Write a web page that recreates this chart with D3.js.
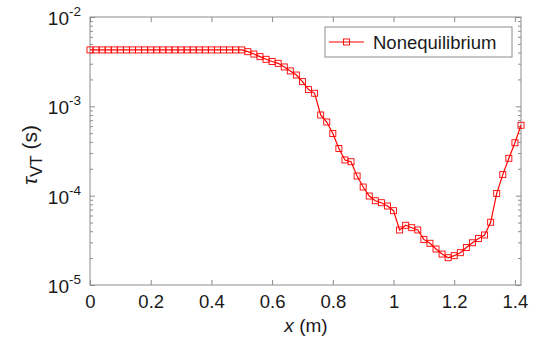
<!DOCTYPE html>
<html><head><meta charset="utf-8">
<script src="https://cdn.jsdelivr.net/npm/d3@7"></script>
<style>
body{margin:0;background:#fff;}
svg{display:block;font-family:"Liberation Sans",Arial,sans-serif;}
</style></head>
<body><svg id="c" width="534" height="339"></svg>
<script>
const xValues = [0,0.02,0.04,0.06,0.08,0.10,0.12,0.14,0.16,0.18,0.20,0.22,0.24,0.26,0.28,0.30,0.32,0.34,0.36,0.38,0.40,0.42,0.44,0.46,0.48,0.50,
0.52,0.54,0.56,0.58,0.60,0.62,0.64,0.66,0.68,0.70,0.72,0.74,0.76,0.78,0.80,0.82,0.84,0.86,0.88,0.90,0.92,0.94,0.96,0.98,1.00,
1.02,1.04,1.06,1.08,1.10,1.12,1.14,1.16,1.18,1.20,1.22,1.24,1.26,1.28,1.30,1.32,1.34,1.36,1.38,1.40,1.42];
const tauValues = [4.28e-3,4.28e-3,4.28e-3,4.28e-3,4.28e-3,4.28e-3,4.28e-3,4.28e-3,4.28e-3,4.28e-3,4.28e-3,4.28e-3,4.28e-3,4.28e-3,4.28e-3,4.28e-3,4.28e-3,4.28e-3,4.28e-3,4.28e-3,4.28e-3,4.28e-3,4.28e-3,4.28e-3,4.28e-3,4.28e-3,
4.09e-3,3.85e-3,3.60e-3,3.36e-3,3.18e-3,3.03e-3,2.76e-3,2.49e-3,2.24e-3,1.89e-3,1.54e-3,1.40e-3,8.0e-4,6.68e-4,4.97e-4,3.37e-4,2.51e-4,2.40e-4,1.66e-4,1.25e-4,9.9e-5,8.78e-5,8.34e-5,7.66e-5,6.79e-5,
4.13e-5,4.66e-5,4.38e-5,4.13e-5,3.24e-5,2.93e-5,2.53e-5,2.22e-5,2.02e-5,2.13e-5,2.30e-5,2.63e-5,2.97e-5,3.31e-5,3.63e-5,5.04e-5,1.06e-4,1.72e-4,2.62e-4,3.91e-4,6.14e-4];
const xTicks = [0,0.2,0.4,0.6,0.8,1,1.2,1.4];
const xTickLabels = ["0","0.2","0.4","0.6","0.8","1","1.2","1.4"];
const yTicks = [1e-5,1e-4,1e-3,1e-2];
const yTickExponents = ["-5","-4","-3","-2"];
const seriesName = "Nonequilibrium";

const svg = d3.select("#c");
const L=90, R=521, T=17, B=285;
const x = d3.scaleLinear().domain([0,1.42]).range([L,R]);
const y = d3.scaleLog().domain([1e-5,1e-2]).range([B,T]);
const axisCol="#8c8c8c", textCol="#1a1a1a", red="#ff0000";

// box
svg.append("rect").attr("x",L).attr("y",T).attr("width",R-L).attr("height",B-T)
  .attr("fill","none").attr("stroke",axisCol).attr("stroke-width",1);

// x ticks bottom/top
const xb = d3.axisBottom(x).tickValues(xTicks).tickSize(-5).tickFormat((d,i)=>xTickLabels[i]).tickPadding(10);
const gx = svg.append("g").attr("transform",`translate(0,${B})`).call(xb);
const xt = d3.axisTop(x).tickValues(xTicks).tickSize(-5).tickFormat("");
const gxt = svg.append("g").attr("transform",`translate(0,${T})`).call(xt);
// y ticks
const minor = [];
for (let e=-5;e<-2;e++) for (let m=2;m<=9;m++) minor.push(m*Math.pow(10,e));
const yl = d3.axisLeft(y).tickValues(yTicks).tickSize(-5).tickFormat("");
const gy = svg.append("g").attr("transform",`translate(${L},0)`).call(yl);
const ylm = d3.axisLeft(y).tickValues(minor).tickSize(-3).tickFormat("");
const gym = svg.append("g").attr("transform",`translate(${L},0)`).call(ylm);
const yr = d3.axisRight(y).tickValues(yTicks).tickSize(-5).tickFormat("");
const gyr = svg.append("g").attr("transform",`translate(${R},0)`).call(yr);
const yrm = d3.axisRight(y).tickValues(minor).tickSize(-3).tickFormat("");
const gyrm = svg.append("g").attr("transform",`translate(${R},0)`).call(yrm);
[gx,gxt,gy,gym,gyr,gyrm].forEach(g=>{
  g.select(".domain").remove();
  g.selectAll(".tick line").attr("stroke",axisCol);
});
gx.selectAll(".tick text").attr("font-size","18.5px").attr("fill",textCol).attr("font-family","Liberation Sans, Arial, sans-serif");

// y tick labels 10^n
yTicks.forEach((v,i)=>{
  const t = svg.append("text").attr("x",81).attr("y",y(v)+8).attr("text-anchor","end")
    .attr("fill",textCol).attr("font-size","19px");
  t.append("tspan").text("10");
  t.append("tspan").attr("dy",-9).attr("font-size","13.5px").text(yTickExponents[i]);
});

// line + markers
const pts = xValues.map((d,i)=>[d,tauValues[i]]);
svg.append("path").datum(pts).attr("fill","none").attr("stroke",red).attr("stroke-width",1.2)
  .attr("d",d3.line().x(d=>x(d[0])).y(d=>y(d[1])));
svg.append("g").selectAll("rect").data(pts).join("rect")
  .attr("x",d=>x(d[0])-3).attr("y",d=>y(d[1])-3).attr("width",6).attr("height",6)
  .attr("fill","none").attr("stroke",red).attr("stroke-width",0.9);

// legend
const lg = svg.append("g");
lg.append("rect").attr("x",325).attr("y",27).attr("width",187).attr("height",30)
  .attr("fill","#fff").attr("stroke",axisCol).attr("stroke-width",1);
lg.append("line").attr("x1",329).attr("x2",364).attr("y1",42).attr("y2",42).attr("stroke",red).attr("stroke-width",1.2);
lg.append("rect").attr("x",346.5-3).attr("y",42-3).attr("width",6).attr("height",6).attr("fill","none").attr("stroke",red).attr("stroke-width",0.9);
lg.append("text").attr("x",373).attr("y",48.5).attr("font-size","18.5px").attr("fill",textCol).text(seriesName);

// axis titles
const xtTitle = svg.append("text").attr("x",306).attr("y",332).attr("text-anchor","middle")
  .attr("font-size","19px").attr("fill",textCol);
xtTitle.append("tspan").attr("font-style","italic").text("x");
xtTitle.append("tspan").text(" (m)");

const yt = svg.append("text").attr("transform","translate(37,155) rotate(-90)").attr("text-anchor","middle")
  .attr("font-size","21px").attr("fill",textCol);
yt.append("tspan").attr("font-style","italic").text("τ");
yt.append("tspan").attr("dy",5).attr("font-size","17px").text("VT");
yt.append("tspan").attr("dy",-5).text(" (s)");
</script></body></html>
